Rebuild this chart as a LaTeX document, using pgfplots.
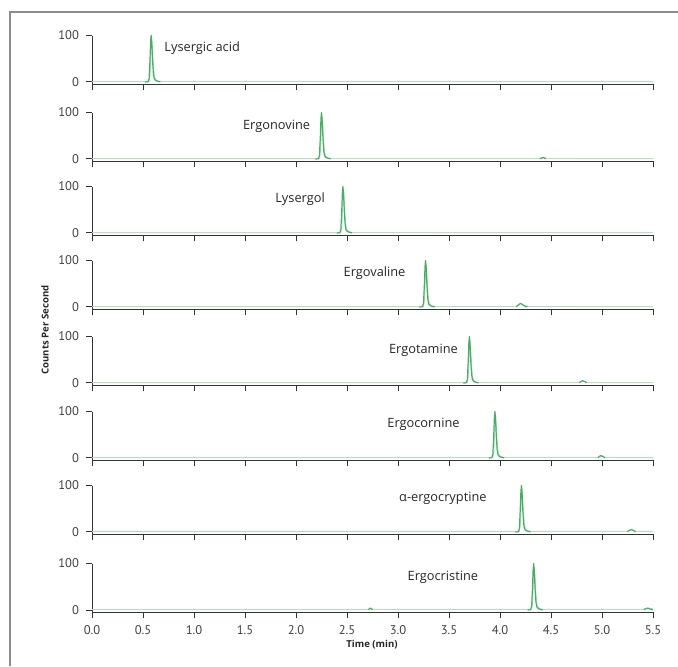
\documentclass[border=0pt]{standalone}
\usepackage{fontspec}
\setmainfont{Open Sans}
\newfontfamily\tickfont{PT Sans}
\usepackage{pgfplots}
\pgfplotsset{compat=1.18}

\definecolor{peak}{HTML}{48AE66}
\definecolor{peaklight}{HTML}{B4E0BF}
\definecolor{axisgray}{HTML}{333333}
\definecolor{framegray}{HTML}{8C8C8C}

\pgfplotsset{
  panel/.style={
    scale only axis, width=280.5pt, height=24.4pt, anchor=south west,
    xmin=0, xmax=5.5, ymin=-5, ymax=100,
    axis x line=bottom, axis y line=left,
    axis line style={-, draw=axisgray, line width=0.5pt},
    tick align=outside, major tick length=3pt,
    tick style={draw=axisgray, line width=0.5pt},
    xtick={0,0.5,...,5.5}, ytick={0,100}, xticklabels={},
    /pgf/number format/assume math mode=true,
    tick label style={font=\tickfont\fontsize{6.3}{7}\selectfont, text=black!75},
    clip=false, unbounded coords=jump,
  },
  main/.style={peak, line width=0.6pt, line join=round},
  light/.style={peaklight, line width=0.45pt, line join=round},
}
\tikzset{cmpd/.style={font=\fontsize{6.4}{7.5}\selectfont, text=black!85}}

\begin{document}
\begin{tikzpicture}
\useasboundingbox (0,0) rectangle (339pt,-333pt);
\draw[framegray, line width=1pt] (5pt,-333pt) -- (5pt,-6pt) -- (339pt,-6pt);

% --- Lysergic acid ---
\begin{axis}[panel, at={(46pt,-42.15pt)}]
\addplot[light] coordinates {(0,0.8) (0.51,0.8) (0.56,1) (0.57,15) (0.578,60) (0.586,92) (0.594,70) (0.602,35) (0.612,12) (0.63,4) (0.66,1.5) (0.70,1) (5.5,0.8)};
\addplot[main] coordinates {(0.52,0) (0.55,0.5) (0.56,8) (0.568,45) (0.575,88) (0.58,100) (0.586,85) (0.594,45) (0.602,18) (0.61,7) (0.625,3) (0.65,1) (0.67,0.3)};
\node[cmpd] at (axis cs:1.08,73) {Lysergic acid};
\end{axis}

% --- Ergonovine ---
\begin{axis}[panel, at={(46pt,-80.65pt)}]
\addplot[light] coordinates {(0,0.8) (2.18,0.8) (2.23,1) (2.24,15) (2.248,60) (2.256,92) (2.264,70) (2.272,35) (2.282,12) (2.30,4) (2.33,1.5) (2.37,1) (4.38,1) (4.42,3.5) (4.47,1) (5.5,0.8)};
\addplot[main] coordinates {(2.19,0) (2.22,0.5) (2.23,8) (2.238,45) (2.245,88) (2.25,100) (2.256,85) (2.264,45) (2.272,18) (2.28,7) (2.295,3) (2.32,1) (2.34,0.3) (3.0,nan) (4.39,0.5) (4.41,2) (4.42,3) (4.43,2.5) (4.45,0.5)};
\node[cmpd] at (axis cs:1.81,71) {Ergonovine};
\end{axis}

% --- Lysergol ---
\begin{axis}[panel, at={(46pt,-117.65pt)}]
\addplot[light] coordinates {(0,0.8) (2.39,0.8) (2.44,1) (2.45,15) (2.458,60) (2.466,92) (2.474,70) (2.482,35) (2.492,12) (2.51,4) (2.54,1.5) (2.58,1) (5.5,0.8)};
\addplot[main] coordinates {(2.40,0) (2.43,0.5) (2.44,8) (2.448,45) (2.455,88) (2.46,100) (2.466,85) (2.474,45) (2.482,18) (2.49,7) (2.505,3) (2.53,1) (2.55,0.3)};
\node[cmpd] at (axis cs:2.04,73) {Lysergol};
\end{axis}

% --- Ergovaline ---
\begin{axis}[panel, at={(46pt,-154.65pt)}]
\addplot[light] coordinates {(0,0.8) (3.20,0.8) (3.25,1) (3.26,15) (3.268,60) (3.276,92) (3.284,70) (3.292,35) (3.302,12) (3.32,4) (3.35,1.5) (3.39,1) (4.15,1) (4.20,7) (4.23,4) (4.28,1) (5.5,0.8)};
\addplot[main] coordinates {(3.21,0) (3.24,0.5) (3.25,8) (3.258,45) (3.265,88) (3.27,100) (3.276,85) (3.284,45) (3.292,18) (3.30,7) (3.315,3) (3.34,1) (3.36,0.3) (3.8,nan) (4.16,0.5) (4.18,4) (4.20,8) (4.22,5) (4.25,1) (4.27,0.5)};
\node[cmpd] at (axis cs:2.77,73) {Ergovaline};
\end{axis}

% --- Ergotamine ---
\begin{axis}[panel, at={(46pt,-192.65pt)}]
\addplot[light] coordinates {(0,0.8) (3.63,0.8) (3.68,1) (3.69,15) (3.698,60) (3.706,92) (3.714,70) (3.722,35) (3.732,12) (3.75,4) (3.78,1.5) (3.82,1) (4.77,1) (4.81,4.5) (4.86,1) (5.5,0.8)};
\addplot[main] coordinates {(3.64,0) (3.67,0.5) (3.68,8) (3.688,45) (3.695,88) (3.70,100) (3.706,85) (3.714,45) (3.722,18) (3.73,7) (3.745,3) (3.77,1) (3.79,0.3) (4.3,nan) (4.78,0.5) (4.80,4) (4.81,5) (4.83,3) (4.85,0.5)};
\node[cmpd] at (axis cs:3.25,71) {Ergotamine};
\end{axis}

% --- Ergocornine ---
\begin{axis}[panel, at={(46pt,-230.15pt)}]
\addplot[light] coordinates {(0,0.8) (3.88,0.8) (3.93,1) (3.94,15) (3.948,60) (3.956,92) (3.964,70) (3.972,35) (3.982,12) (4.00,4) (4.03,1.5) (4.07,1) (4.95,1) (4.99,4.5) (5.04,1) (5.5,0.8)};
\addplot[main] coordinates {(3.89,0) (3.92,0.5) (3.93,8) (3.938,45) (3.945,88) (3.95,100) (3.956,85) (3.964,45) (3.972,18) (3.98,7) (3.995,3) (4.02,1) (4.04,0.3) (4.5,nan) (4.96,0.5) (4.98,4) (4.99,5) (5.01,3) (5.03,0.5)};
\node[cmpd] at (axis cs:3.25,73) {Ergocornine};
\end{axis}

% --- alpha-ergocryptine ---
\begin{axis}[panel, at={(46pt,-267.15pt)}]
\addplot[light] coordinates {(0,0.8) (4.14,0.8) (4.19,1) (4.20,15) (4.208,60) (4.216,92) (4.224,70) (4.232,35) (4.242,12) (4.26,4) (4.29,1.5) (4.33,1) (5.24,1) (5.29,4.5) (5.34,1) (5.5,0.8)};
\addplot[main] coordinates {(4.15,0) (4.18,0.5) (4.19,8) (4.198,45) (4.205,88) (4.21,100) (4.216,85) (4.224,45) (4.232,18) (4.24,7) (4.255,3) (4.28,1) (4.30,0.3) (4.8,nan) (5.25,0.5) (5.27,4) (5.29,5) (5.31,3) (5.33,0.5)};
\node[cmpd] at (axis cs:3.44,73) {α-ergocryptine};
\end{axis}

% --- Ergocristine ---
\begin{axis}[panel, at={(46pt,-306.15pt)},
  xticklabels={0.0,0.5,1.0,1.5,2.0,2.5,3.0,3.5,4.0,4.5,5.0,5.5}]
\addplot[light] coordinates {(0,0.8) (2.70,0.8) (2.73,4) (2.77,1) (4.26,1) (4.31,1) (4.32,15) (4.328,60) (4.336,92) (4.344,70) (4.352,35) (4.362,12) (4.38,4) (4.41,1.5) (4.45,1) (5.40,1) (5.45,4.5) (5.5,2)};
\addplot[main] coordinates {(2.71,0.5) (2.73,4) (2.75,0.5) (3.5,nan) (4.27,0) (4.30,0.5) (4.31,8) (4.318,45) (4.325,88) (4.33,100) (4.336,85) (4.344,45) (4.352,18) (4.36,7) (4.375,3) (4.40,1) (4.42,0.3) (5.0,nan) (5.41,0.5) (5.43,3) (5.45,4) (5.47,2) (5.5,1)};
\node[cmpd] at (axis cs:3.44,71) {Ergocristine};
\end{axis}

\node[rotate=90, font=\bfseries\fontsize{4.8}{6}\selectfont, text=black!85] at (22.5pt,-165pt) {Counts Per Second};
\node[font=\bfseries\fontsize{4.8}{6}\selectfont, text=black!85] at (186pt,-322.5pt) {Time (min)};
\end{tikzpicture}
\end{document}
